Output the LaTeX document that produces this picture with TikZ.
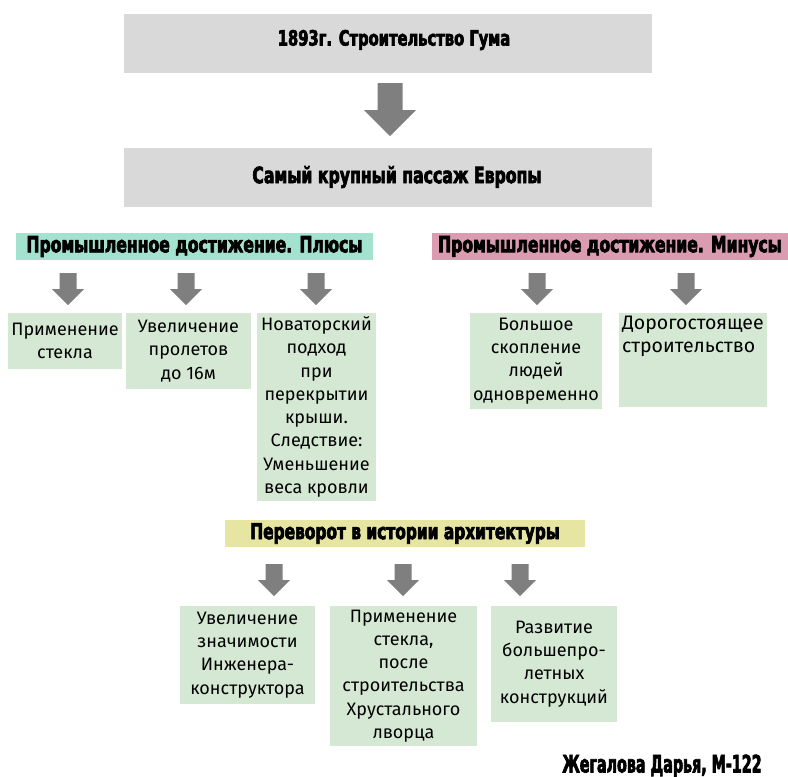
\documentclass[tikz,border=0pt]{standalone}
\usepackage{fontspec}
\setmainfont{Fira Sans}
\newfontfamily\hfont{DejaVu Sans}[FakeStretch=0.7,FakeBold=3]
\newfontfamily\bfont{Fira Sans}
\definecolor{boxgray}{HTML}{D9D9D9}
\definecolor{plusc}{HTML}{A3E2CF}
\definecolor{minusc}{HTML}{DB9BB0}
\definecolor{yellc}{HTML}{E6E6A2}
\definecolor{greenc}{HTML}{D5E8D4}
\definecolor{arrowc}{HTML}{7F7F7F}
\tikzset{
  head/.style={inner sep=0pt, outer sep=0pt, font=\hfont\bfseries\fontsize{21}{24}\selectfont},
  graybox/.style={head, fill=boxgray},
  greenbox/.style={fill=greenc, inner sep=0pt, outer sep=0pt, align=center,
    font=\bfont\fontsize{18}{23.3}\selectfont},
  bodytext/.style={inner sep=0pt, outer sep=0pt, align=left,
    font=\bfont\fontsize{18}{23.3}\selectfont},
  bigarrow/.pic={\fill[arrowc] (-12.5,0) -- (12.5,0) -- (12.5,27) -- (26,27)
      -- (0,53) -- (-26,27) -- (-12.5,27) -- cycle;},
  smallarrow/.pic={\fill[arrowc] (-8.5,0) -- (8.5,0) -- (8.5,16) -- (16,16)
      -- (0,32) -- (-16,16) -- (-8.5,16) -- cycle;}
}
\begin{document}
\begin{tikzpicture}[x=1pt,y=-1pt]
\useasboundingbox (0,0) rectangle (788,777);
\fill[white] (0,0) rectangle (788,777);

% top level
\node[graybox, minimum width=528, minimum height=59] (top) at (388,43.5) {};
\node[head] (toptext) at (394,40) {1893г. Строительство Гума};
\pic (a0) at (390,83) {bigarrow};
\node[graybox, minimum width=528, minimum height=59] (second) at (388,177.5) {};
\node[head, font=\hfont\bfseries\fontsize{22.4}{25}\selectfont] (secondtext) at (397,177) {Самый крупный пассаж Европы};

% plus / minus headers
\node[head, fill=plusc, minimum width=357, minimum height=27,
  font=\hfont\bfseries\fontsize{22.3}{24}\selectfont] (plus) at (194.5,246.5) {Промышленное достижение. Плюсы};
\node[head, fill=minusc, minimum width=356, minimum height=27,
  font=\hfont\bfseries\fontsize{22.3}{24}\selectfont, anchor=west] (minus) at (432,246.5) {Промышленное достижение. Минусы};

% plus arrows and boxes
\pic (p1) at (68,273) {smallarrow};
\pic (p2) at (186,273) {smallarrow};
\pic (p3) at (316,273) {smallarrow};
\node[greenbox, minimum width=114, minimum height=56] (b1) at (65,341) {Применение\\стекла};
\node[greenbox, minimum width=125, minimum height=76] (b2) at (188.5,351) {Увеличение\\пролетов\\до 16м};
\node[greenbox, minimum width=119, minimum height=188] (b3) at (316.5,407) {Новаторский\\подход\\при\\перекрытии\\крыши.\\Следствие:\\Уменьшение\\веса кровли};

% minus arrows and boxes
\pic (m1) at (537,273) {smallarrow};
\pic (m2) at (686,273) {smallarrow};
\node[greenbox, minimum width=132, minimum height=96] (b4) at (536,361) {Большое\\скопление\\людей\\одновременно};
\node[greenbox, minimum width=148, minimum height=94] (b5) at (693,360) {};
\node[bodytext, anchor=north west, font=\bfont\fontsize{19.5}{23.3}\selectfont] (b5text) at (622,316) {Дорогостоящее\\строительство};

% revolution header
\node[head, fill=yellc, minimum width=360, minimum height=27,
  font=\hfont\bfseries\fontsize{22}{24}\selectfont] (rev) at (405,533.5) {Переворот в истории архитектуры};

\pic (r1) at (274,564) {smallarrow};
\pic (r2) at (403,564) {smallarrow};
\pic (r3) at (520,564) {smallarrow};
\node[greenbox, minimum width=135, minimum height=98] (c1) at (247.5,655) {Увеличение\\значимости\\Инженера-\\конструктора};
\node[greenbox, minimum width=147, minimum height=140] (c2) at (403.5,676) {Применение\\стекла,\\после\\строительства\\Хрустального\\лворца};
\node[greenbox, minimum width=126, minimum height=116] (c3) at (554,664) {Развитие\\большепро-\\летных\\конструкций};

% author
\node[head, font=\hfont\bfseries\fontsize{24}{26}\selectfont] (author) at (662,766) {\scalebox{0.85}[1]{Жегалова Дарья, М-122}};
\end{tikzpicture}
\end{document}
